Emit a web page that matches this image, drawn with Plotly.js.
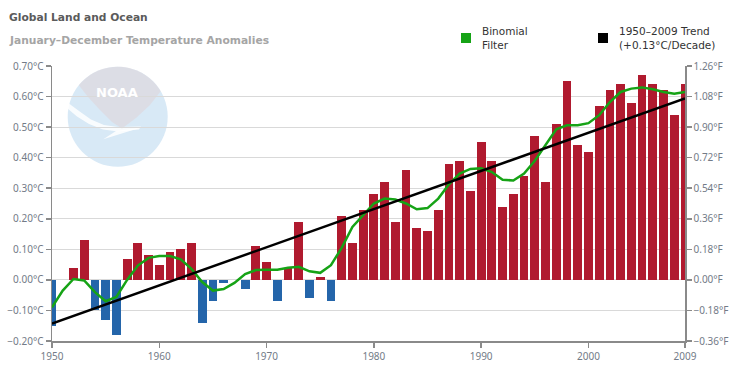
<!DOCTYPE html>
<html>
<head>
<meta charset="utf-8">
<script src="https://cdn.plot.ly/plotly-3.0.1.min.js"></script>
<style>html,body{margin:0;padding:0;background:#fff;}#chart{width:742px;height:377px;}</style>
</head>
<body>
<div id="chart"></div>
<script>
var years = [1950,1951,1952,1953,1954,1955,1956,1957,1958,1959,
             1960,1961,1962,1963,1964,1965,1966,1967,1968,1969,
             1970,1971,1972,1973,1974,1975,1976,1977,1978,1979,
             1980,1981,1982,1983,1984,1985,1986,1987,1988,1989,
             1990,1991,1992,1993,1994,1995,1996,1997,1998,1999,
             2000,2001,2002,2003,2004,2005,2006,2007,2008,2009];
var anomalies = [-0.15,0.00,0.04,0.13,-0.10,-0.13,-0.18,0.07,0.12,0.08,
                 0.05,0.09,0.10,0.12,-0.14,-0.07,-0.01,0.00,-0.03,0.11,
                 0.06,-0.07,0.04,0.19,-0.06,0.01,-0.07,0.21,0.12,0.23,
                 0.28,0.32,0.19,0.36,0.17,0.16,0.23,0.38,0.39,0.29,
                 0.45,0.39,0.24,0.28,0.34,0.47,0.32,0.51,0.65,0.44,
                 0.42,0.57,0.62,0.64,0.58,0.67,0.64,0.62,0.54,0.64];
var binomial = [-0.090,-0.035,0.003,-0.002,-0.040,-0.070,-0.056,0.000,0.047,0.072,
                0.078,0.078,0.067,0.036,-0.007,-0.035,-0.030,-0.010,0.019,0.032,
                0.033,0.033,0.040,0.043,0.028,0.023,0.048,0.105,0.173,0.213,
                0.250,0.266,0.263,0.250,0.231,0.235,0.266,0.313,0.348,0.363,
                0.365,0.353,0.328,0.325,0.348,0.390,0.440,0.493,0.506,0.506,
                0.513,0.539,0.582,0.615,0.626,0.630,0.624,0.615,0.609,0.615];
var trendYears = [1950, 2009];
var trendValues = [-0.143, 0.594];
var xTickVals = [1950,1960,1970,1980,1990,2000,2009];
var xTickText = ['1950','1960','1970','1980','1990','2000','2009'];
var titleText = 'Global Land and Ocean';
var subtitleText = 'January\u2013December Temperature Anomalies';
var legendNames = ['Binomial<br>Filter', '1950\u20132009 Trend<br>(+0.13\u00b0C/Decade)'];

var RED = '#b01a2f', BLUE = '#2465aa', GREEN = '#16a316';
var barColors = anomalies.map(function(v){ return v >= 0 ? RED : BLUE; });

// pixel -> fraction helpers (plot area: x 52..685, y 66..341)
var L = 52, R = 57, T = 66, B = 36, W = 742 - L - R, H = 377 - T - B;
function px(x){ return (x - L) / W; }
function py(y){ return (377 - B - y) / H; }
function pathFrom(pts){
  return 'M' + pts.map(function(p){ return px(p[0]).toFixed(4) + ',' + py(p[1]).toFixed(4); }).join('L') + 'Z';
}

// faded logo geometry (decorative, semi-transparent so gridlines show through)
var cx = 117.7, cy = 116.7, r = 50;
var grayPts = [];
var a0 = Math.atan2(84 - cy, 77.3 - cx), a1 = Math.atan2(90.7 - cy, 161.7 - cx);
if (a1 < a0) a1 += 2 * Math.PI;
for (var i = 0; i <= 24; i++) {
  var a = a0 + (a1 - a0) * i / 24;
  grayPts.push([cx + r * Math.cos(a), cy + r * Math.sin(a)]);
}
grayPts.push([150,105],[136,118],[122,128.5],[112,122],[100,110],[88,97]);
var swooshPts = [[67.6,102.5],[79,111],[91,119.5],[104,125],[118,127],[141,126.5],
                 [139,129.5],[118,131.5],[103,129.5],[89,124],[77,116.5],[67.5,108.5]];
var tailPts = [[141,127.5],[103.3,139.2],[116,131]];

var traces = [
  {type:'bar', x:years, y:anomalies, marker:{color:barColors, line:{width:0}}, width:0.82,
   hoverinfo:'x+y', showlegend:false},
  {type:'scatter', mode:'lines', x:years, y:binomial, line:{color:GREEN, width:2.5},
   showlegend:false},
  {type:'scatter', mode:'lines', x:trendYears, y:trendValues, line:{color:'#000', width:2.5},
   showlegend:false},
  {type:'scatter', mode:'lines', x:[1950], y:[0], yaxis:'y2', showlegend:false, hoverinfo:'skip',
   line:{width:0}}
];

var tickFont = {family:'Noto Sans, sans-serif', size:10, color:'#737b87'};
var axisCol = '#8a8a8a';

var layout = {
  width:742, height:377,
  margin:{l:L, r:R, t:T, b:B, pad:0},
  paper_bgcolor:'#fff', plot_bgcolor:'rgba(0,0,0,0)',
  bargap:0,
  xaxis:{range:[1950,2009], tickmode:'array', tickvals:xTickVals, ticktext:xTickText,
         showgrid:false, zeroline:false, showline:true, linecolor:axisCol, linewidth:1.5,
         ticks:'outside', ticklen:5, tickcolor:axisCol, tickwidth:1.5, tickfont:tickFont},
  yaxis:{range:[-0.2,0.7], dtick:0.1, tick0:0, tickformat:'.2f', ticksuffix:'\u00b0C',
         showgrid:true, gridcolor:'#d9d9d9', gridwidth:1, zeroline:false,
         showline:true, linecolor:axisCol, linewidth:1.5,
         ticks:'outside', ticklen:5, tickcolor:axisCol, tickwidth:1.5, tickfont:tickFont},
  yaxis2:{range:[-0.36,1.26], dtick:0.18, tick0:0, tickformat:'.2f', ticksuffix:'\u00b0F',
          overlaying:'y', side:'right', showgrid:false, zeroline:false,
          showline:true, linecolor:axisCol, linewidth:1.5,
          ticks:'outside', ticklen:5, tickcolor:axisCol, tickwidth:1.5, tickfont:tickFont},
  shapes:[
    {type:'circle', xref:'x domain', yref:'y domain', layer:'below', opacity:0.6,
     x0:px(cx - r), x1:px(cx + r), y0:py(cy + r), y1:py(cy - r),
     fillcolor:'#bedaf0', line:{width:0}},
    {type:'path', xref:'x domain', yref:'y domain', layer:'below', opacity:0.85, path:pathFrom(swooshPts),
     fillcolor:'#ffffff', line:{width:0}},
    {type:'path', xref:'x domain', yref:'y domain', layer:'below', opacity:0.85, path:pathFrom(tailPts),
     fillcolor:'#ffffff', line:{width:0}},
    {type:'path', xref:'x domain', yref:'y domain', layer:'below', opacity:0.6, path:pathFrom(grayPts),
     fillcolor:'#dfd5db', line:{width:0}},
    {type:'rect', xref:'paper', yref:'paper', x0:px(461), x1:px(471), y0:py(43), y1:py(33),
     fillcolor:GREEN, line:{width:0}},
    {type:'rect', xref:'paper', yref:'paper', x0:px(598), x1:px(608), y0:py(43), y1:py(33),
     fillcolor:'#000', line:{width:0}}
  ],
  annotations:[
    {text:'<b>' + titleText + '</b>', xref:'paper', yref:'paper', x:px(7), y:py(18),
     xanchor:'left', yanchor:'middle', showarrow:false,
     font:{family:'DejaVu Sans, sans-serif', size:10.7, color:'#5b5b5b'}},
    {text:'<b>' + subtitleText + '</b>', xref:'paper', yref:'paper', x:px(7), y:py(40),
     xanchor:'left', yanchor:'middle', showarrow:false,
     font:{family:'DejaVu Sans, sans-serif', size:10.7, color:'#a5a5a5'}},
    {text:legendNames[0], xref:'paper', yref:'paper', x:px(480), y:py(38),
     xanchor:'left', yanchor:'middle', align:'left', showarrow:false,
     font:{family:'DejaVu Sans, sans-serif', size:10.5, color:'#333'}},
    {text:legendNames[1], xref:'paper', yref:'paper', x:px(617), y:py(38),
     xanchor:'left', yanchor:'middle', align:'left', showarrow:false,
     font:{family:'DejaVu Sans, sans-serif', size:10.5, color:'#333'}},
    {text:'<b>NOAA</b>', xref:'paper', yref:'paper', x:px(116.5), y:py(92.5),
     xanchor:'center', yanchor:'middle', showarrow:false,
     font:{family:'DejaVu Sans, sans-serif', size:13, color:'#ffffff'}}
  ]
};

Plotly.newPlot('chart', traces, layout, {displayModeBar:false, staticPlot:true});
</script>
</body>
</html>
